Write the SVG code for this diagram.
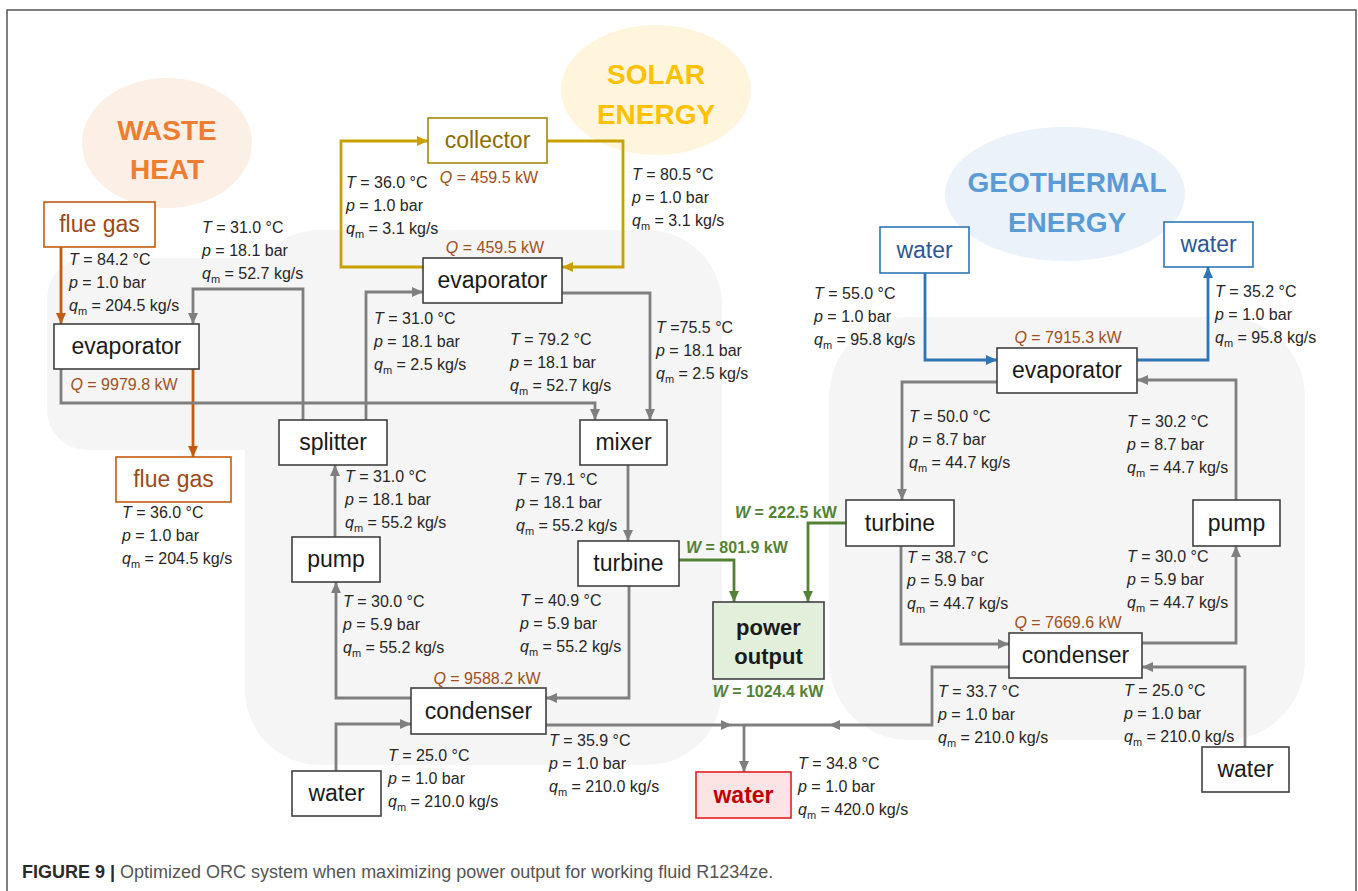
<svg xmlns="http://www.w3.org/2000/svg" width="1358" height="891" viewBox="0 0 1358 891">
<style>
text{font-family:"Liberation Sans",Arial,sans-serif}
.node{font-size:23px;fill:#1a1a1a;text-anchor:middle}
.box{fill:#fff;stroke:#404040;stroke-width:1.6}
.d{font-size:16px;fill:#262626}
.i{font-style:italic}
.sub{font-size:11px}
.q{font-size:16px;fill:#a0501e;text-anchor:middle}
.w{font-size:16px;fill:#548235;font-weight:bold}
.c{fill:none;stroke-width:2.8}
.gray{stroke:#7f7f7f}
.org{stroke:#c55a11}
.gold{stroke:#c9a000}
.blue{stroke:#2e75b6}
.grn{stroke:#548235}
.big{font-size:28px;font-weight:bold;text-anchor:middle}
</style>
<defs>
<marker id="ag" markerUnits="userSpaceOnUse" markerWidth="11" markerHeight="10" refX="11" refY="5" orient="auto"><path d="M0,0 L11,5 L0,10 z" fill="#7f7f7f"/></marker>
<marker id="ao" markerUnits="userSpaceOnUse" markerWidth="11" markerHeight="10" refX="11" refY="5" orient="auto"><path d="M0,0 L11,5 L0,10 z" fill="#c55a11"/></marker>
<marker id="ay" markerUnits="userSpaceOnUse" markerWidth="11" markerHeight="10" refX="11" refY="5" orient="auto"><path d="M0,0 L11,5 L0,10 z" fill="#c9a000"/></marker>
<marker id="ab" markerUnits="userSpaceOnUse" markerWidth="11" markerHeight="10" refX="11" refY="5" orient="auto"><path d="M0,0 L11,5 L0,10 z" fill="#2e75b6"/></marker>
<marker id="an" markerUnits="userSpaceOnUse" markerWidth="11" markerHeight="10" refX="11" refY="5" orient="auto"><path d="M0,0 L11,5 L0,10 z" fill="#548235"/></marker>
</defs>
<rect x="0" y="0" width="1358" height="891" fill="#fff"/>
<path d="M7,895 V10 H1356 V895" fill="none" stroke="#555" stroke-width="1.5"/>

<g id="backgrounds">
<rect x="47" y="258" width="300" height="192" rx="40" fill="#f5f5f5"/>
<rect x="245" y="230" width="477" height="535" rx="75" fill="#f5f5f5"/>
<rect x="829" y="317" width="476" height="423" rx="80" fill="#f5f5f5"/>
<ellipse cx="167" cy="143" rx="85" ry="65" fill="#fcefe6"/>
<ellipse cx="656" cy="90" rx="95" ry="65" fill="#fff5dc"/>
<ellipse cx="1065" cy="194" rx="120" ry="67" fill="#ebf2fa"/>
<text class="big" x="167" y="140" fill="#ed7d31">WASTE</text>
<text class="big" x="167" y="179" fill="#ed7d31">HEAT</text>
<text class="big" x="656" y="84" fill="#ffc000">SOLAR</text>
<text class="big" x="656" y="124" fill="#ffc000">ENERGY</text>
<text class="big" x="1067" y="192" fill="#5b9bd5">GEOTHERMAL</text>
<text class="big" x="1067" y="232" fill="#5b9bd5">ENERGY</text>
</g>

<g id="connectors">
<path class="c org" d="M61,247 V324" marker-end="url(#ao)"/>
<path class="c org" d="M193,369 V457" marker-end="url(#ao)"/>
<path class="c gray" d="M303,420 V289 H193 V324" marker-end="url(#ag)"/>
<path class="c gray" d="M366,420 V292 H423" marker-end="url(#ag)"/>
<path class="c gray" d="M61,369 V403 H595 V420" marker-end="url(#ag)"/>
<path class="c gray" d="M562,293 H650 V420" marker-end="url(#ag)"/>
<path class="c gray" d="M628,465 V541" marker-end="url(#ag)"/>
<path class="c gray" d="M335,537 V465" marker-end="url(#ag)"/>
<path class="c gray" d="M411,698 H336 V582" marker-end="url(#ag)"/>
<path class="c gray" d="M629,586 V698 H546" marker-end="url(#ag)"/>
<path class="c gray" d="M336,771 V724 H411" marker-end="url(#ag)"/>
<path class="c gray" d="M546,725 H732" marker-end="url(#ag)"/>
<path class="c gray" d="M732,725 H744"/>
<path class="c gray" d="M1009,667 H932 V725 H829" marker-end="url(#ag)"/>
<path class="c gray" d="M829,725 H744"/>
<path class="c gray" d="M744,724 V772" marker-end="url(#ag)"/>
<path class="c gray" d="M1245,747 V667 H1142" marker-end="url(#ag)"/>
<path class="c gray" d="M901,546 V644 H1009" marker-end="url(#ag)"/>
<path class="c gray" d="M1142,643 H1236 V546" marker-end="url(#ag)"/>
<path class="c gray" d="M1236,500 V380 H1137" marker-end="url(#ag)"/>
<path class="c gray" d="M997,382 H902 V500" marker-end="url(#ag)"/>
<path class="c blue" d="M925,273 V360 H997" marker-end="url(#ab)"/>
<path class="c blue" d="M1137,360 H1208 V267" marker-end="url(#ab)"/>
<path class="c gold" d="M423,267 H341 V141 H428" marker-end="url(#ay)"/>
<path class="c gold" d="M547,141 H623 V267 H562" marker-end="url(#ay)"/>
<path class="c grn" d="M679,560 H734 V602" marker-end="url(#an)"/>
<path class="c grn" d="M846,523 H808 V602" marker-end="url(#an)"/>
</g>

<g id="collector"><rect x="428" y="118" width="119" height="45" fill="#fff" stroke="#a6870a" stroke-width="1.6"/><text class="node" x="487.5" y="148" style="fill:#8c6d00">collector</text><text class="q" x="489" y="183"><tspan class="i">Q</tspan> = 459.5 kW</text></g>
<g id="evaporator-solar"><rect class="box" x="423" y="258" width="139" height="45"/><text class="node" x="492.5" y="288">evaporator</text><text class="q" x="495" y="253"><tspan class="i">Q</tspan> = 459.5 kW</text></g>
<g id="flue-gas-in"><rect x="44" y="202" width="111" height="45" fill="#fff" stroke="#c55a11" stroke-width="1.6"/><text class="node" x="99.5" y="232" style="fill:#9c4a1a">flue gas</text></g>
<g id="evaporator-waste"><rect class="box" x="54" y="324" width="145" height="45"/><text class="node" x="126.5" y="354">evaporator</text><text class="q" x="124" y="390"><tspan class="i">Q</tspan> = 9979.8 kW</text></g>
<g id="flue-gas-out"><rect x="116" y="457" width="115" height="45" fill="#fff" stroke="#c55a11" stroke-width="1.6"/><text class="node" x="173.5" y="487" style="fill:#9c4a1a">flue gas</text></g>
<g id="splitter"><rect class="box" x="279" y="420" width="108" height="45"/><text class="node" x="333" y="450">splitter</text></g>
<g id="mixer"><rect class="box" x="580" y="420" width="87" height="45"/><text class="node" x="623.5" y="450">mixer</text></g>
<g id="pump-orc1"><rect class="box" x="292" y="537" width="88" height="45"/><text class="node" x="336" y="567">pump</text></g>
<g id="turbine-orc1"><rect class="box" x="578" y="541" width="101" height="45"/><text class="node" x="628.5" y="571">turbine</text><text class="w" x="686" y="553"><tspan class="i">W</tspan> = 801.9 kW</text></g>
<g id="condenser-orc1"><rect class="box" x="411" y="688" width="135" height="46"/><text class="node" x="478.5" y="719">condenser</text><text class="q" x="487" y="684"><tspan class="i">Q</tspan> = 9588.2 kW</text></g>
<g id="water-in-orc1"><rect class="box" x="292" y="771" width="89" height="45"/><text class="node" x="336.5" y="801">water</text></g>
<g id="power-output"><rect x="713" y="602" width="111" height="77" fill="#e2efda" stroke="#404040" stroke-width="1.6"/><text class="node" x="768.5" y="635" style="font-weight:bold;font-size:22px">power</text><text class="node" x="768.5" y="664" style="font-weight:bold;font-size:22px">output</text><text class="w" x="768" y="697" text-anchor="middle"><tspan class="i">W</tspan> = 1024.4 kW</text></g>
<g id="water-out"><rect x="696" y="772" width="95" height="46" fill="#fde4e4" stroke="#e02020" stroke-width="1.6"/><text class="node" x="743.5" y="803" style="fill:#c00000;font-weight:bold">water</text></g>
<g id="water-geo-in"><rect x="880" y="227" width="89" height="46" fill="#fff" stroke="#2e75b6" stroke-width="1.6"/><text class="node" x="924.5" y="258" style="fill:#2f5597">water</text></g>
<g id="water-geo-out"><rect x="1164" y="222" width="89" height="45" fill="#fff" stroke="#2e75b6" stroke-width="1.6"/><text class="node" x="1208.5" y="252" style="fill:#2f5597">water</text></g>
<g id="evaporator-geo"><rect class="box" x="997" y="348" width="140" height="45"/><text class="node" x="1067" y="378">evaporator</text><text class="q" x="1068" y="343"><tspan class="i">Q</tspan> = 7915.3 kW</text></g>
<g id="turbine-orc2"><rect class="box" x="846" y="500" width="108" height="46"/><text class="node" x="900" y="531">turbine</text><text class="w" x="735" y="518"><tspan class="i">W</tspan> = 222.5 kW</text></g>
<g id="pump-orc2"><rect class="box" x="1193" y="500" width="87" height="46"/><text class="node" x="1236.5" y="531">pump</text></g>
<g id="condenser-orc2"><rect class="box" x="1009" y="633" width="133" height="45"/><text class="node" x="1075.5" y="663">condenser</text><text class="q" x="1068" y="628"><tspan class="i">Q</tspan> = 7669.6 kW</text></g>
<g id="water-in-orc2"><rect class="box" x="1202" y="747" width="87" height="45"/><text class="node" x="1245.5" y="777">water</text></g>

<g id="stream-labels" class="d">
<text class="d" x="69" y="265"><tspan class="i">T</tspan> = 84.2 °C</text><text class="d" x="69" y="288"><tspan class="i">p</tspan> = 1.0 bar</text><text class="d" x="69" y="311"><tspan class="i">q</tspan><tspan class="sub" dy="4">m</tspan><tspan dy="-4"> = 204.5 kg/s</tspan></text>
<text class="d" x="202" y="233"><tspan class="i">T</tspan> = 31.0 °C</text><text class="d" x="202" y="256"><tspan class="i">p</tspan> = 18.1 bar</text><text class="d" x="202" y="279"><tspan class="i">q</tspan><tspan class="sub" dy="4">m</tspan><tspan dy="-4"> = 52.7 kg/s</tspan></text>
<text class="d" x="346" y="188"><tspan class="i">T</tspan> = 36.0 °C</text><text class="d" x="346" y="211"><tspan class="i">p</tspan> = 1.0 bar</text><text class="d" x="346" y="234"><tspan class="i">q</tspan><tspan class="sub" dy="4">m</tspan><tspan dy="-4"> = 3.1 kg/s</tspan></text>
<text class="d" x="632" y="180"><tspan class="i">T</tspan> = 80.5 °C</text><text class="d" x="632" y="203"><tspan class="i">p</tspan> = 1.0 bar</text><text class="d" x="632" y="226"><tspan class="i">q</tspan><tspan class="sub" dy="4">m</tspan><tspan dy="-4"> = 3.1 kg/s</tspan></text>
<text class="d" x="374" y="324"><tspan class="i">T</tspan> = 31.0 °C</text><text class="d" x="374" y="347"><tspan class="i">p</tspan> = 18.1 bar</text><text class="d" x="374" y="370"><tspan class="i">q</tspan><tspan class="sub" dy="4">m</tspan><tspan dy="-4"> = 2.5 kg/s</tspan></text>
<text class="d" x="510" y="345"><tspan class="i">T</tspan> = 79.2 °C</text><text class="d" x="510" y="368"><tspan class="i">p</tspan> = 18.1 bar</text><text class="d" x="510" y="391"><tspan class="i">q</tspan><tspan class="sub" dy="4">m</tspan><tspan dy="-4"> = 52.7 kg/s</tspan></text>
<text class="d" x="656" y="333"><tspan class="i">T</tspan> =75.5 °C</text><text class="d" x="656" y="356"><tspan class="i">p</tspan> = 18.1 bar</text><text class="d" x="656" y="379"><tspan class="i">q</tspan><tspan class="sub" dy="4">m</tspan><tspan dy="-4"> = 2.5 kg/s</tspan></text>
<text class="d" x="122" y="518"><tspan class="i">T</tspan> = 36.0 °C</text><text class="d" x="122" y="541"><tspan class="i">p</tspan> = 1.0 bar</text><text class="d" x="122" y="564"><tspan class="i">q</tspan><tspan class="sub" dy="4">m</tspan><tspan dy="-4"> = 204.5 kg/s</tspan></text>
<text class="d" x="345" y="482"><tspan class="i">T</tspan> = 31.0 °C</text><text class="d" x="345" y="505"><tspan class="i">p</tspan> = 18.1 bar</text><text class="d" x="345" y="528"><tspan class="i">q</tspan><tspan class="sub" dy="4">m</tspan><tspan dy="-4"> = 55.2 kg/s</tspan></text>
<text class="d" x="516" y="485"><tspan class="i">T</tspan> = 79.1 °C</text><text class="d" x="516" y="508"><tspan class="i">p</tspan> = 18.1 bar</text><text class="d" x="516" y="531"><tspan class="i">q</tspan><tspan class="sub" dy="4">m</tspan><tspan dy="-4"> = 55.2 kg/s</tspan></text>
<text class="d" x="343" y="607"><tspan class="i">T</tspan> = 30.0 °C</text><text class="d" x="343" y="630"><tspan class="i">p</tspan> = 5.9 bar</text><text class="d" x="343" y="653"><tspan class="i">q</tspan><tspan class="sub" dy="4">m</tspan><tspan dy="-4"> = 55.2 kg/s</tspan></text>
<text class="d" x="520" y="606"><tspan class="i">T</tspan> = 40.9 °C</text><text class="d" x="520" y="629"><tspan class="i">p</tspan> = 5.9 bar</text><text class="d" x="520" y="652"><tspan class="i">q</tspan><tspan class="sub" dy="4">m</tspan><tspan dy="-4"> = 55.2 kg/s</tspan></text>
<text class="d" x="388" y="761"><tspan class="i">T</tspan> = 25.0 °C</text><text class="d" x="388" y="784"><tspan class="i">p</tspan> = 1.0 bar</text><text class="d" x="388" y="807"><tspan class="i">q</tspan><tspan class="sub" dy="4">m</tspan><tspan dy="-4"> = 210.0 kg/s</tspan></text>
<text class="d" x="549" y="746"><tspan class="i">T</tspan> = 35.9 °C</text><text class="d" x="549" y="769"><tspan class="i">p</tspan> = 1.0 bar</text><text class="d" x="549" y="792"><tspan class="i">q</tspan><tspan class="sub" dy="4">m</tspan><tspan dy="-4"> = 210.0 kg/s</tspan></text>
<text class="d" x="798" y="769"><tspan class="i">T</tspan> = 34.8 °C</text><text class="d" x="798" y="792"><tspan class="i">p</tspan> = 1.0 bar</text><text class="d" x="798" y="815"><tspan class="i">q</tspan><tspan class="sub" dy="4">m</tspan><tspan dy="-4"> = 420.0 kg/s</tspan></text>
<text class="d" x="938" y="697"><tspan class="i">T</tspan> = 33.7 °C</text><text class="d" x="938" y="720"><tspan class="i">p</tspan> = 1.0 bar</text><text class="d" x="938" y="743"><tspan class="i">q</tspan><tspan class="sub" dy="4">m</tspan><tspan dy="-4"> = 210.0 kg/s</tspan></text>
<text class="d" x="1124" y="696"><tspan class="i">T</tspan> = 25.0 °C</text><text class="d" x="1124" y="719"><tspan class="i">p</tspan> = 1.0 bar</text><text class="d" x="1124" y="742"><tspan class="i">q</tspan><tspan class="sub" dy="4">m</tspan><tspan dy="-4"> = 210.0 kg/s</tspan></text>
<text class="d" x="814" y="299"><tspan class="i">T</tspan> = 55.0 °C</text><text class="d" x="814" y="322"><tspan class="i">p</tspan> = 1.0 bar</text><text class="d" x="814" y="345"><tspan class="i">q</tspan><tspan class="sub" dy="4">m</tspan><tspan dy="-4"> = 95.8 kg/s</tspan></text>
<text class="d" x="1215" y="297"><tspan class="i">T</tspan> = 35.2 °C</text><text class="d" x="1215" y="320"><tspan class="i">p</tspan> = 1.0 bar</text><text class="d" x="1215" y="343"><tspan class="i">q</tspan><tspan class="sub" dy="4">m</tspan><tspan dy="-4"> = 95.8 kg/s</tspan></text>
<text class="d" x="909" y="422"><tspan class="i">T</tspan> = 50.0 °C</text><text class="d" x="909" y="445"><tspan class="i">p</tspan> = 8.7 bar</text><text class="d" x="909" y="468"><tspan class="i">q</tspan><tspan class="sub" dy="4">m</tspan><tspan dy="-4"> = 44.7 kg/s</tspan></text>
<text class="d" x="1127" y="427"><tspan class="i">T</tspan> = 30.2 °C</text><text class="d" x="1127" y="450"><tspan class="i">p</tspan> = 8.7 bar</text><text class="d" x="1127" y="473"><tspan class="i">q</tspan><tspan class="sub" dy="4">m</tspan><tspan dy="-4"> = 44.7 kg/s</tspan></text>
<text class="d" x="907" y="563"><tspan class="i">T</tspan> = 38.7 °C</text><text class="d" x="907" y="586"><tspan class="i">p</tspan> = 5.9 bar</text><text class="d" x="907" y="609"><tspan class="i">q</tspan><tspan class="sub" dy="4">m</tspan><tspan dy="-4"> = 44.7 kg/s</tspan></text>
<text class="d" x="1127" y="562"><tspan class="i">T</tspan> = 30.0 °C</text><text class="d" x="1127" y="585"><tspan class="i">p</tspan> = 5.9 bar</text><text class="d" x="1127" y="608"><tspan class="i">q</tspan><tspan class="sub" dy="4">m</tspan><tspan dy="-4"> = 44.7 kg/s</tspan></text>
</g>

<g id="caption"><text x="22" y="878" style="font-size:18px;fill:#555"><tspan style="font-weight:bold;fill:#2a2a2a">FIGURE 9 |</tspan> Optimized ORC system when maximizing power output for working fluid R1234ze.</text></g>
</svg>
